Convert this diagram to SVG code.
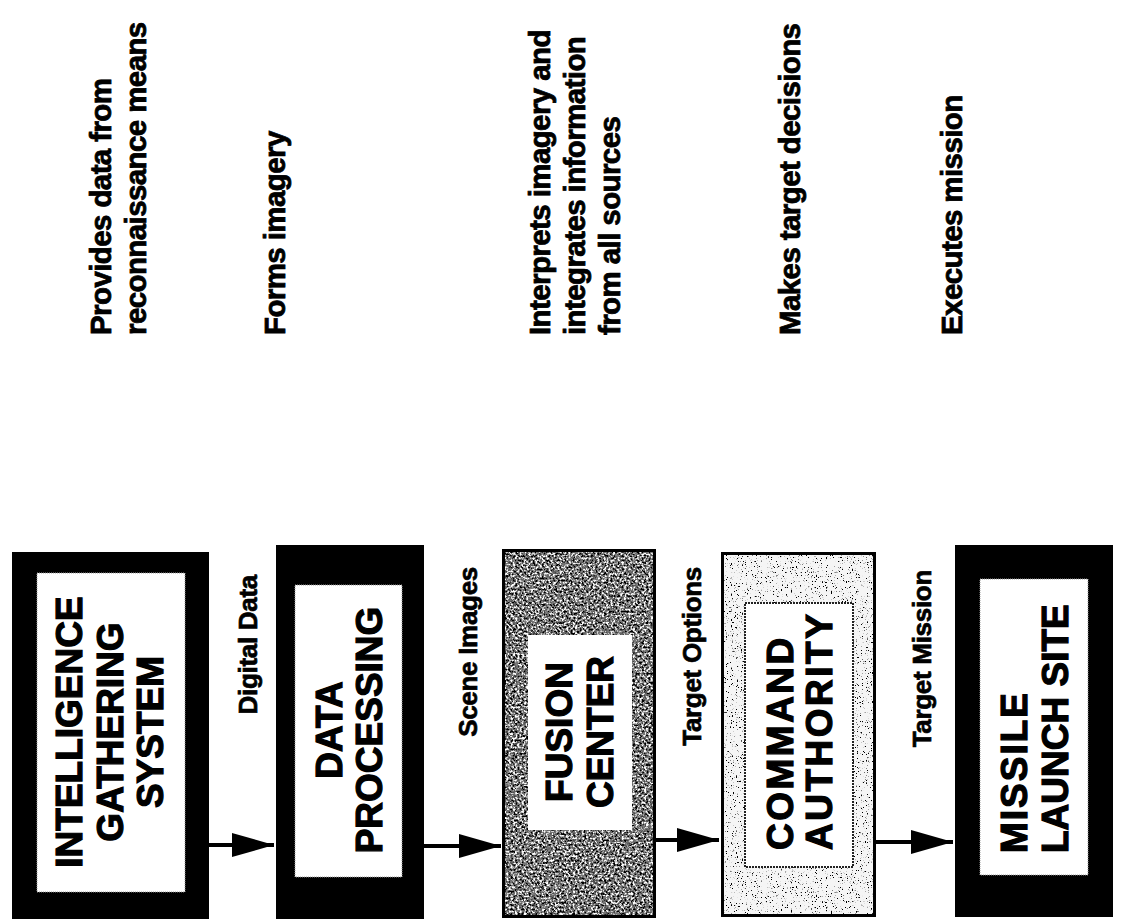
<svg xmlns="http://www.w3.org/2000/svg" width="1121" height="919" viewBox="0 0 1121 919">
<style>
  .desc { font-family: "Liberation Sans", Arial, Helvetica, sans-serif; font-weight: bold; font-size: 29.5px; letter-spacing: -0.6px; fill: #000; stroke: #000; stroke-width: 0.8px; }
  .lbl { font-family: "Liberation Sans", Arial, Helvetica, sans-serif; font-weight: bold; font-size: 26px; letter-spacing: -0.3px; fill: #000; stroke: #000; stroke-width: 0.7px; }
  .big { font-family: "Liberation Sans", Arial, Helvetica, sans-serif; font-weight: bold; font-size: 37px; fill: #000; stroke: #000; stroke-width: 1.2px; }
  .wide { letter-spacing: 2.5px; }
  .blk { fill: #000; }
  .inner { fill: #fff; stroke: #9a9a9a; stroke-width: 1; stroke-dasharray: 1 1; }
  .conn { stroke: #000; stroke-width: 4; fill: none; marker-end: url(#ah); }
</style>
<defs>
  <marker id="ah" markerUnits="userSpaceOnUse" markerWidth="44" markerHeight="26" refX="42" refY="12" orient="auto">
    <path d="M0,0 L42,12 L0,24 Z" fill="#000"/>
  </marker>
  <filter id="darkgrain" x="0" y="0" width="1" height="1">
    <feTurbulence type="fractalNoise" baseFrequency="0.45" numOctaves="4" seed="7" result="n"/>
    <feColorMatrix in="n" type="matrix" values="0 0 0 0 0  0 0 0 0 0  0 0 0 0 0  -6 0 0 0 3.0" result="dark"/>
    <feColorMatrix in="n" type="matrix" values="0 0 0 0 1  0 0 0 0 1  0 0 0 0 1  6 0 0 0 -3.2" result="light"/>
    <feFlood flood-color="#747474" result="bg"/>
    <feMerge result="m">
      <feMergeNode in="bg"/>
      <feMergeNode in="dark"/>
      <feMergeNode in="light"/>
    </feMerge>
    <feComposite in="m" in2="SourceGraphic" operator="in"/>
  </filter>
  <filter id="lightgrain" x="0" y="0" width="1" height="1">
    <feTurbulence type="fractalNoise" baseFrequency="0.8" numOctaves="2" seed="3" result="n"/>
    <feColorMatrix in="n" type="matrix" values="0 0 0 0 0  0 0 0 0 0  0 0 0 0 0  -12 0 0 0 4.4" result="specks"/>
    <feFlood flood-color="#f5f5f5" result="bg"/>
    <feComposite in="specks" in2="bg" operator="over" result="m"/>
    <feComposite in="m" in2="SourceGraphic" operator="in"/>
  </filter>
</defs>
<rect width="1121" height="919" fill="#fff"/>

<!-- descriptions -->
<g id="descriptions">
  <text class="desc" transform="rotate(-90)" x="-335" y="111">Provides data from</text>
  <text class="desc" transform="rotate(-90)" x="-335" y="146">reconnaissance means</text>
  <text class="desc" transform="rotate(-90)" x="-335" y="285">Forms imagery</text>
  <text class="desc" transform="rotate(-90)" x="-335" y="550">Interprets imagery and</text>
  <text class="desc" transform="rotate(-90)" x="-335" y="585">integrates information</text>
  <text class="desc" transform="rotate(-90)" x="-335" y="620">from all sources</text>
  <text class="desc" transform="rotate(-90)" x="-335" y="800">Makes target decisions</text>
  <text class="desc" transform="rotate(-90)" x="-335" y="962">Executes mission</text>
</g>

<!-- nodes -->
<g id="intelligence">
  <rect class="blk" x="12" y="552" width="197" height="367"/>
  <rect class="inner" x="37" y="573" width="148" height="319"/>
  <text class="big" transform="rotate(-90)" x="-732" y="82" text-anchor="middle">INTELLIGENCE</text>
  <text class="big" transform="rotate(-90)" x="-732" y="123" text-anchor="middle">GATHERING</text>
  <text class="big" transform="rotate(-90)" x="-732" y="163" text-anchor="middle">SYSTEM</text>
</g>
<g id="data-processing">
  <rect class="blk" x="276" y="545" width="148" height="374"/>
  <rect class="inner" x="295" y="585" width="107" height="292"/>
  <text class="big" transform="rotate(-90)" x="-730" y="342" text-anchor="middle">DATA</text>
  <text class="big" transform="rotate(-90)" x="-730" y="382" text-anchor="middle">PROCESSING</text>
</g>
<g id="fusion-center">
  <rect x="502" y="549" width="154" height="368" fill="#000" filter="url(#darkgrain)"/>
  <rect x="503.5" y="550.5" width="151" height="366" fill="none" stroke="#000" stroke-width="3"/>
  <rect x="528" y="635" width="104" height="195" fill="#fff"/>
  <text class="big" transform="rotate(-90)" x="-732" y="572" text-anchor="middle">FUSION</text>
  <text class="big" transform="rotate(-90)" x="-732" y="613" text-anchor="middle">CENTER</text>
</g>
<g id="command-authority">
  <rect x="721" y="552" width="155" height="365" fill="#000" filter="url(#lightgrain)"/>
  <rect x="722.5" y="553.5" width="152" height="362" fill="none" stroke="#000" stroke-width="3"/>
  <rect x="745" y="603" width="108" height="264" fill="#fff" stroke="#222" stroke-width="2" stroke-dasharray="2 1"/>
  <text class="big wide" transform="rotate(-90)" x="-850" y="793">COMMAND</text>
  <text class="big wide" transform="rotate(-90)" x="-850" y="832">AUTHORITY</text>
</g>
<g id="missile-launch-site">
  <rect class="blk" x="955" y="545" width="158" height="372"/>
  <rect class="inner" x="980" y="579" width="108" height="296"/>
  <text class="big" transform="rotate(-90)" x="-853" y="1027" letter-spacing="2">MISSILE</text>
  <text class="big" transform="rotate(-90)" x="-853" y="1068">LAUNCH SITE</text>
</g>

<!-- connectors -->
<g id="connectors">
  <line class="conn" x1="209" y1="845" x2="274" y2="845"/>
  <line class="conn" x1="424" y1="846" x2="501" y2="846"/>
  <line class="conn" x1="656" y1="840" x2="719" y2="840"/>
  <line class="conn" x1="876" y1="842" x2="953" y2="842"/>
  <text class="lbl" transform="rotate(-90)" x="-575" y="257" text-anchor="end">Digital Data</text>
  <text class="lbl" transform="rotate(-90)" x="-567" y="477" text-anchor="end">Scene Images</text>
  <text class="lbl" transform="rotate(-90)" x="-567" y="701" text-anchor="end">Target Options</text>
  <text class="lbl" transform="rotate(-90)" x="-570" y="931" text-anchor="end">Target Mission</text>
</g>
</svg>
